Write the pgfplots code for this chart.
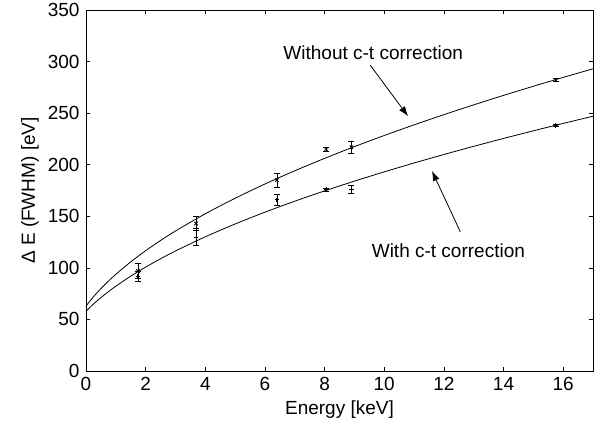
\documentclass[border=0pt]{standalone}
\usepackage{fontspec}
\setmainfont{Liberation Sans}
\usepackage{pgfplots}
\pgfplotsset{compat=1.18}
\usetikzlibrary{arrows.meta}

\begin{document}
\fontsize{19bp}{23bp}\selectfont
\begin{tikzpicture}
\useasboundingbox (-86bp,-58bp) rectangle (519bp,371bp);
\begin{axis}[
  scale only axis,
  width=507bp, height=361bp,
  at={(0,0)}, anchor=south west,
  xmin=0, xmax=17, ymin=0, ymax=350,
  xtick={0,2,...,16}, ytick={0,50,...,350},
  tick align=inside,
  major tick length=4bp,
  axis line style={line width=0.8bp},
  tick style={line width=0.7bp, black},
  /pgf/number format/assume math mode=true,
  ticklabel style={font=\fontsize{19bp}{23bp}\selectfont},
  label style={font=\fontsize{19bp}{23bp}\selectfont},
  xlabel={Energy [keV]},
  ylabel={Δ E (FWHM) [eV]},
  xlabel style={at={(axis description cs:0.5,-0.108)}, anchor=center},
  ylabel style={at={(axis description cs:-0.1105,0.5)}, anchor=center},
  clip=false,
  every axis plot/.append style={line width=0.8bp, black},
]
% without c-t correction: fit, FWHM = sqrt(a^2 + b E)
\addplot[no marks, smooth] coordinates {
(0,63.0) (0.25,71.92) (0.5,79.86) (0.75,87.07) (1,93.73) (1.5,105.80)
(2,116.62) (2.5,126.53) (3,135.71) (4,152.42) (5,167.48) (6,181.29)
(7,194.12) (8,206.15) (9,217.52) (10,228.32) (11,238.63) (12,248.52)
(13,258.03) (14,267.19) (15,276.06) (16,284.65) (17,292.99)};
% with c-t correction: fit
\addplot[no marks, smooth] coordinates {
(0,58.0) (0.25,64.90) (0.5,71.13) (0.75,76.86) (1,82.19) (1.5,91.93)
(2,100.73) (2.5,108.82) (3,116.35) (4,130.11) (5,142.54) (6,153.98)
(7,164.62) (8,174.62) (9,184.07) (10,193.07) (11,201.66) (12,209.90)
(13,217.82) (14,225.47) (15,232.87) (16,240.04) (17,247.00)};
% measured, without correction
\addplot[only marks, mark=x, mark size=2.5bp,
  error bars/.cd, y dir=both, y explicit,
  error mark options={rotate=90, mark size=3bp, line width=0.7bp},
  error bar style={line width=0.7bp}]
  coordinates {
  (1.74,97) +- (0,7)
  (3.69,143) +- (0,7)
  (6.40,185) +- (0,7)
  (8.05,215) +- (0,2)
  (8.90,217) +- (0,6)
  (15.75,282) +- (0,1.5)};
% measured, with correction
\addplot[only marks, mark=+, mark size=2.2bp,
  error bars/.cd, y dir=both, y explicit,
  error mark options={rotate=90, mark size=3bp, line width=0.7bp},
  error bar style={line width=0.7bp}]
  coordinates {
  (1.74,92) +- (0,5)
  (3.69,130) +- (0,8)
  (6.40,166) +- (0,5)
  (8.05,176) +- (0,1.5)
  (8.90,176) +- (0,4)
  (15.75,238) +- (0,1)};
\node[font=\fontsize{19bp}{23bp}\selectfont] at (axis cs:9.63,309) {Without c-t correction};
\node[font=\fontsize{19bp}{23bp}\selectfont] at (axis cs:12.15,117) {With c-t correction};
\draw[line width=0.8bp, -{Latex[length=10bp,width=7bp]}] (axis cs:9.53,296.5) -- (axis cs:10.8,247);
\draw[line width=0.8bp, -{Latex[length=10bp,width=7bp]}] (axis cs:12.55,135) -- (axis cs:11.6,194);
\end{axis}
\end{tikzpicture}
\end{document}
